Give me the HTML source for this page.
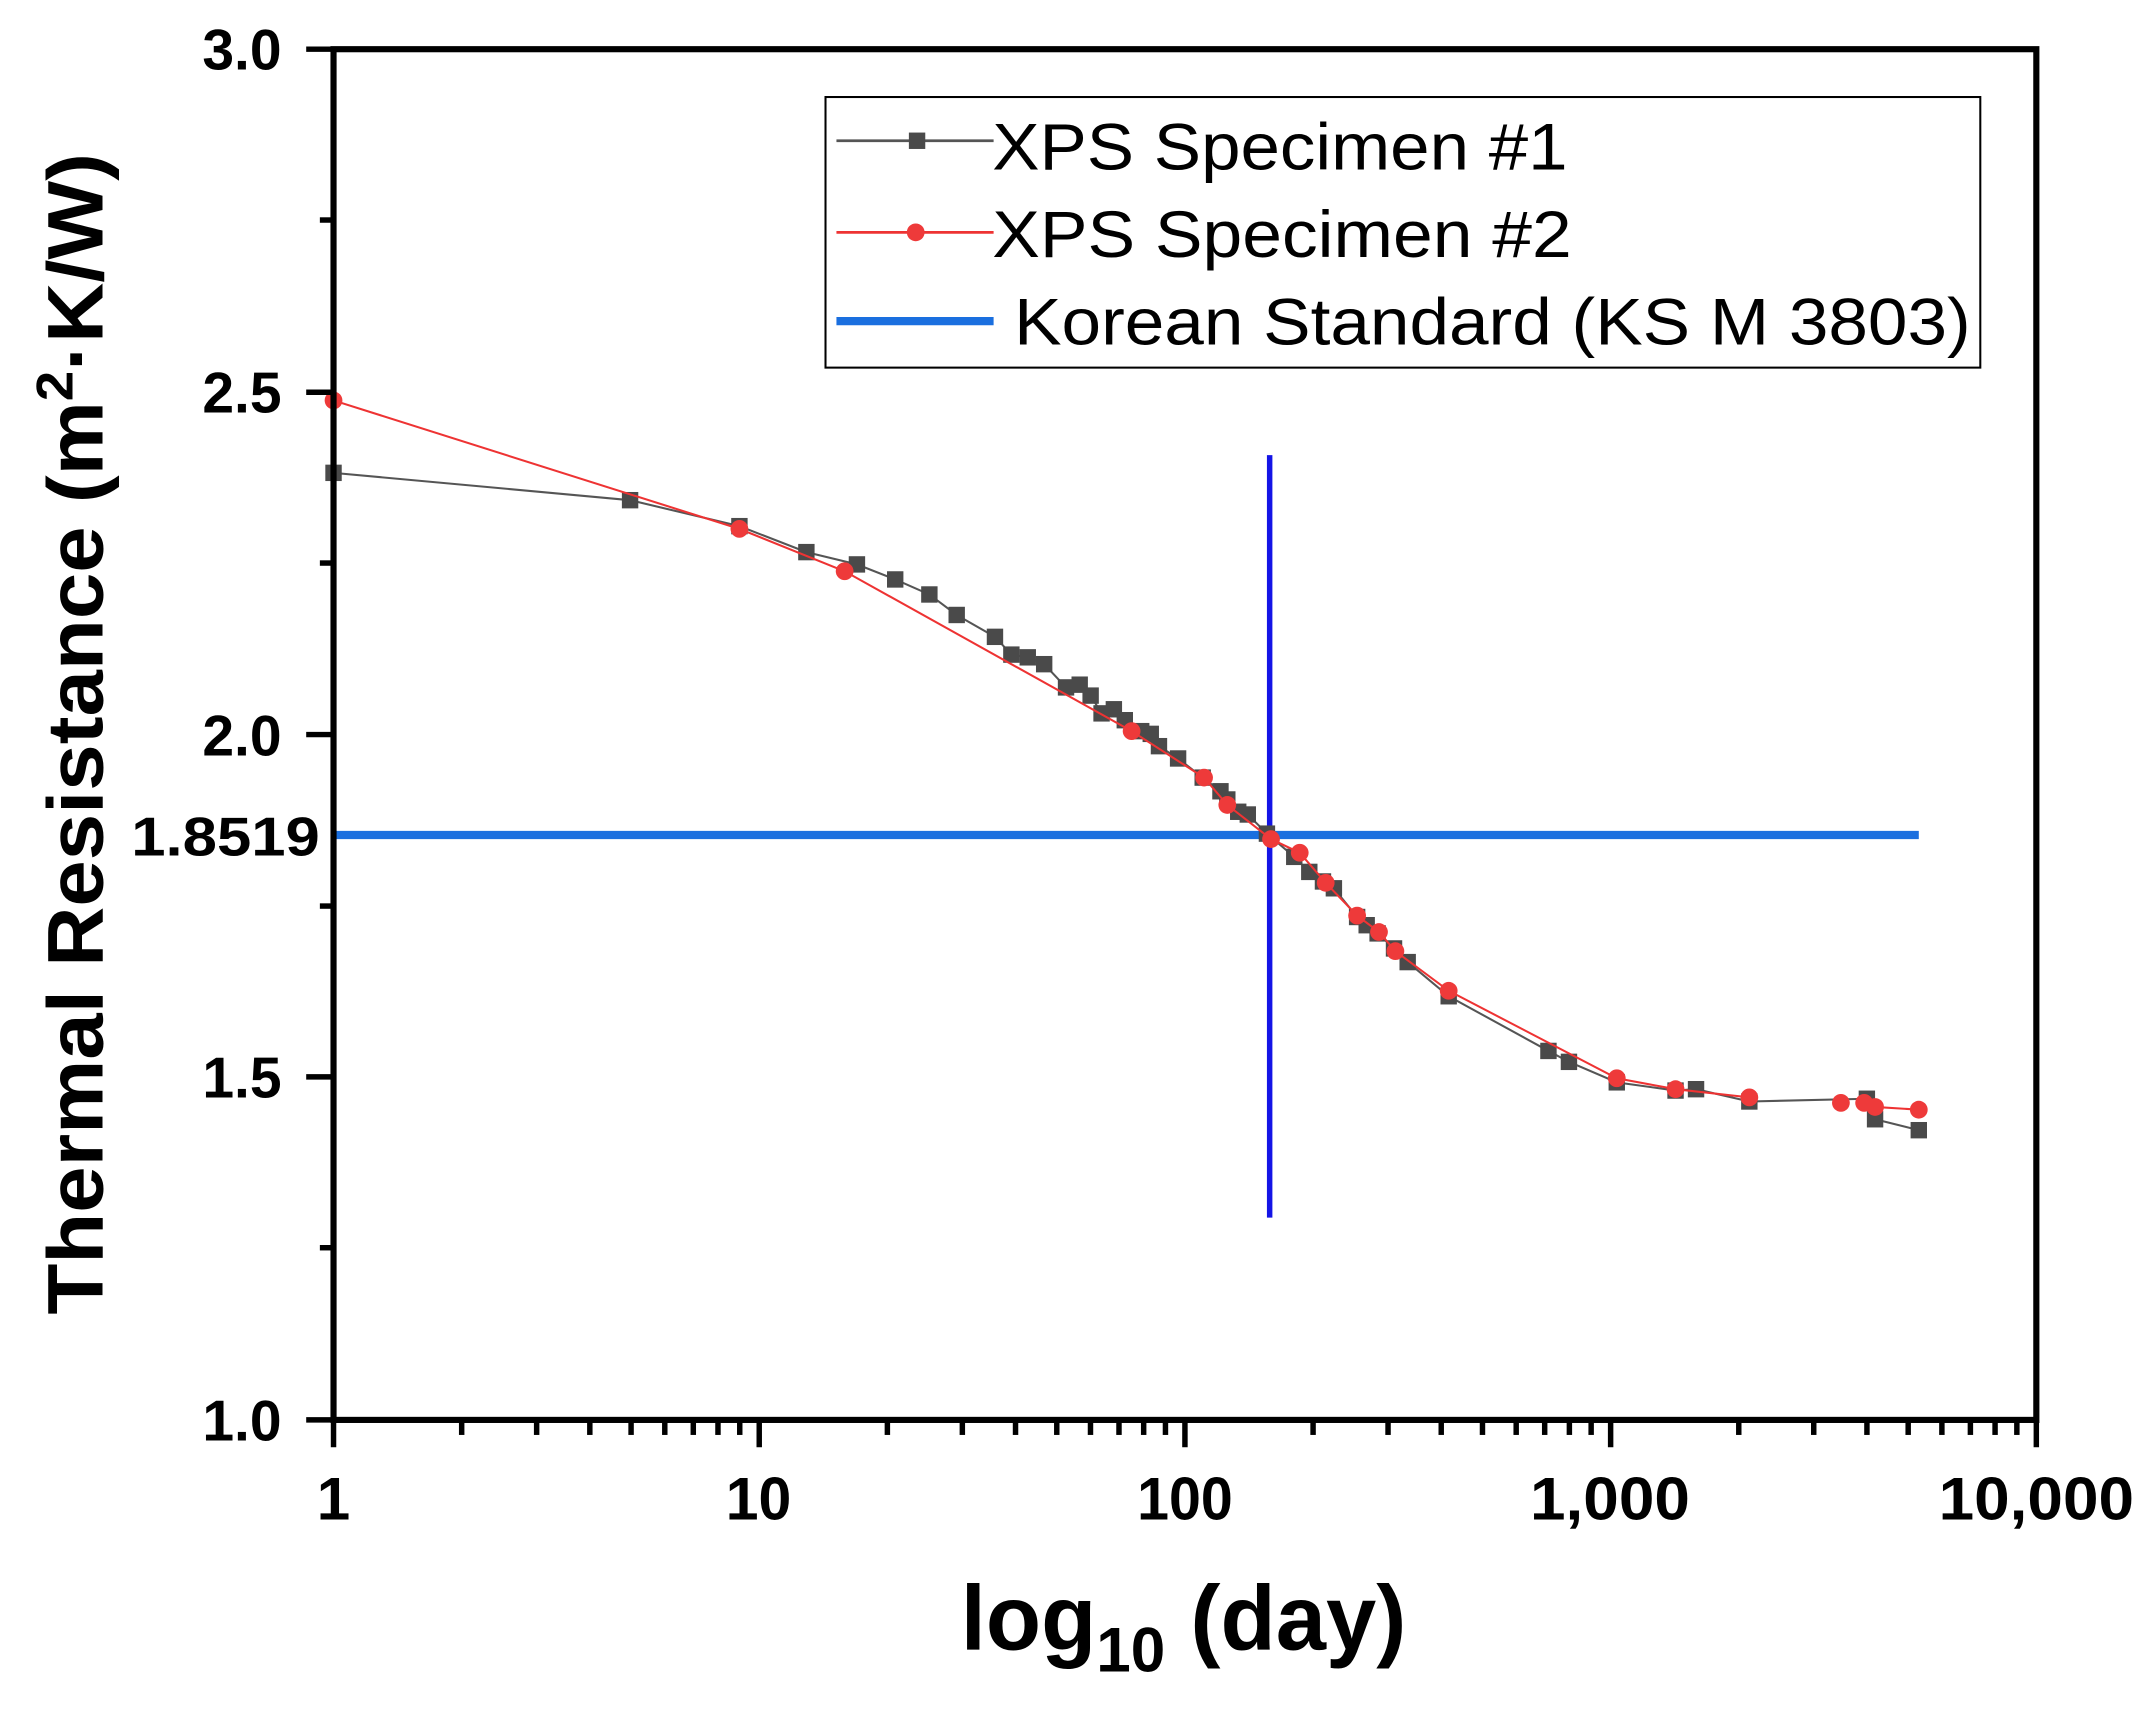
<!DOCTYPE html>
<html><head><meta charset="utf-8"><style>html,body{margin:0;padding:0;background:#fff}svg{display:block}</style></head><body>
<svg width="2143" height="1711" viewBox="0 0 1568 1252" xmlns="http://www.w3.org/2000/svg" font-family="Liberation Sans, Arial, sans-serif">
<rect width="1568" height="1252" fill="#fff"/>
<line x1="244" y1="611" x2="1404" y2="611" stroke="#1a6fdf" stroke-width="6"/>
<line x1="929" y1="333" x2="929" y2="891" stroke="#1414e6" stroke-width="4"/>
<polyline fill="none" stroke="#555" stroke-width="1.5" points="244,346 461,366 541,385 590,404 627,413 655,424 680,435 700,450 728,466 740,479 752,481 764,486 780,503 790,501 798,509 806,522 815,519 823,527 835,535 842,537 848,546 862,555 880,569 893,579 898,585 906,594 913,596 927,610 947,627 958,638 968,645 976,650 993,671 1000,677 1008,683 1020,694 1030,704 1060,729 1133,769 1148,777 1183,792 1226,798 1241,797 1280,806 1366,804 1372,819 1404,827"/>
<g fill="#4a4a4a" id="s1"></g>
<polyline fill="none" stroke="#ee3333" stroke-width="1.5" points="244,293 541,387 618,418 828,535 881,569 898,589 930,614 951,624 970,646 993,670 1009,682 1021,696 1060,725 1183,789 1226,797 1280,803"/>
<polyline fill="none" stroke="#ee3333" stroke-width="1.5" points="1364,807 1372,810 1404,812"/>
<g fill="#ee3a3a" id="s2"></g>
<script>
var s1="244,346 461,366 541,385 590,404 627,413 655,424 680,435 700,450 728,466 740,479 752,481 764,486 780,503 790,501 798,509 806,522 815,519 823,527 835,535 842,537 848,546 862,555 880,569 893,579 898,585 906,594 913,596 927,610 947,627 958,638 968,645 976,650 993,671 1000,677 1008,683 1020,694 1030,704 1060,729 1133,769 1148,777 1183,792 1226,798 1241,797 1280,806 1366,804 1372,819 1404,827";
var s2="244,293 541,387 618,418 828,535 881,569 898,589 930,614 951,624 970,646 993,670 1009,682 1021,696 1060,725 1183,789 1226,797 1280,803 1347,807 1364,807 1372,810 1404,812";
var ns="http://www.w3.org/2000/svg";
s1.split(" ").forEach(function(p){var a=p.split(",");var r=document.createElementNS(ns,"rect");r.setAttribute("x",a[0]-6);r.setAttribute("y",a[1]-6);r.setAttribute("width",12);r.setAttribute("height",12);document.getElementById("s1").appendChild(r);});
s2.split(" ").forEach(function(p){var a=p.split(",");var c=document.createElementNS(ns,"circle");c.setAttribute("cx",a[0]);c.setAttribute("cy",a[1]);c.setAttribute("r",6.5);document.getElementById("s2").appendChild(c);});
</script>
<rect x="244" y="36" width="1246" height="1003" fill="none" stroke="#000" stroke-width="4.5"/>
<g stroke="#000" stroke-width="4">
<line x1="224" y1="1039" x2="244" y2="1039"/><line x1="224" y1="788" x2="244" y2="788"/><line x1="224" y1="537.5" x2="244" y2="537.5"/><line x1="224" y1="287" x2="244" y2="287"/><line x1="224" y1="36" x2="244" y2="36"/>
<line x1="234" y1="913" x2="244" y2="913"/><line x1="234" y1="663" x2="244" y2="663"/><line x1="234" y1="412" x2="244" y2="412"/><line x1="234" y1="161" x2="244" y2="161"/>
</g>
<g stroke="#000" stroke-width="4" id="xt"></g>
<script>
var g=document.getElementById("xt");
for(var d=0;d<4;d++){for(var k=1;k<=10;k++){var x=244+311.5*(d+Math.log10(k));if(k==1&&d>0)continue;var L=document.createElementNS(ns,"line");L.setAttribute("x1",x);L.setAttribute("x2",x);L.setAttribute("y1",1039);L.setAttribute("y2",(k==1||k==10)?1059:1050);g.appendChild(L);}}
</script>
<g font-weight="bold" font-size="42" text-anchor="end">
<text x="206" y="1054" textLength="58" lengthAdjust="spacingAndGlyphs">1.0</text>
<text x="206" y="803" textLength="58" lengthAdjust="spacingAndGlyphs">1.5</text>
<text x="206" y="553" textLength="58" lengthAdjust="spacingAndGlyphs">2.0</text>
<text x="206" y="302" textLength="58" lengthAdjust="spacingAndGlyphs">2.5</text>
<text x="206" y="51" textLength="58" lengthAdjust="spacingAndGlyphs">3.0</text>
<text x="234" y="626" font-size="40" textLength="138" lengthAdjust="spacingAndGlyphs">1.8519</text>
</g>
<g font-weight="bold" font-size="44" text-anchor="middle">
<text x="244" y="1112">1</text>
<text x="555" y="1112" textLength="48" lengthAdjust="spacingAndGlyphs">10</text>
<text x="867" y="1112" textLength="70" lengthAdjust="spacingAndGlyphs">100</text>
<text x="1178" y="1112" textLength="117" lengthAdjust="spacingAndGlyphs">1,000</text>
<text x="1490" y="1112" textLength="143" lengthAdjust="spacingAndGlyphs">10,000</text>
</g>
<text x="866" y="1207" font-weight="bold" font-size="67" text-anchor="middle" textLength="326" lengthAdjust="spacingAndGlyphs">log<tspan font-size="46" dy="16">10</tspan><tspan dy="-16"> (day)</tspan></text>
<text transform="translate(75,537) rotate(-90)" font-weight="bold" font-size="58" text-anchor="middle" textLength="850" lengthAdjust="spacingAndGlyphs">Thermal Resistance (m<tspan font-size="38" dy="-22">2</tspan><tspan dy="22">·K/W)</tspan></text>
<rect x="604" y="71" width="845" height="198" fill="#fff" stroke="#000" stroke-width="1.5"/>
<line x1="612" y1="103" x2="727" y2="103" stroke="#555" stroke-width="2"/>
<rect x="665" y="97" width="12" height="12" fill="#4a4a4a"/>
<line x1="612" y1="170" x2="727" y2="170" stroke="#ee3333" stroke-width="2"/>
<circle cx="670" cy="170" r="6.5" fill="#ee3a3a"/>
<line x1="612" y1="235" x2="727" y2="235" stroke="#1a6fdf" stroke-width="6"/>
<g font-size="48">
<text x="726" y="124" textLength="421" lengthAdjust="spacingAndGlyphs">XPS Specimen #1</text>
<text x="726" y="188" textLength="424" lengthAdjust="spacingAndGlyphs">XPS Specimen #2</text>
<text x="742" y="252" textLength="700" lengthAdjust="spacingAndGlyphs">Korean Standard (KS M 3803)</text>
</g>
</svg>
</body></html>
